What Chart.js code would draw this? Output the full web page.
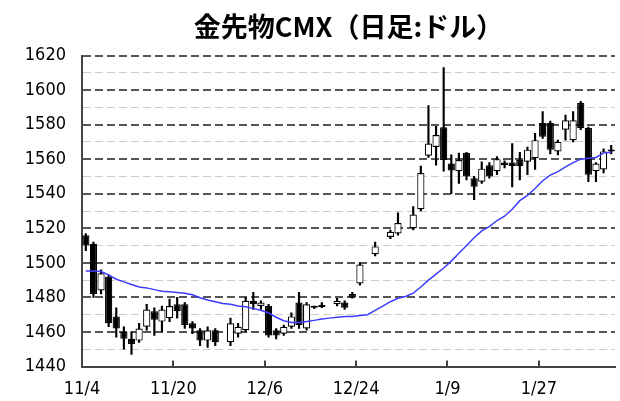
<!DOCTYPE html>
<html><head><meta charset="utf-8">
<script src="https://cdn.jsdelivr.net/npm/chart.js@4"></script>
<style>html,body{margin:0;padding:0;background:#fff}#wrap{width:620px;height:401px}</style>
</head><body><div id="wrap"><canvas id="c" width="620" height="401"></canvas></div>
<script>
const dates = ['11/4','11/5','11/6','11/7','11/8','11/11','11/12','11/13','11/14','11/15','11/18','11/19','11/20','11/21','11/22','11/25','11/26','11/27','11/28','11/29',
'12/2','12/3','12/4','12/5','12/6','12/9','12/10','12/11','12/12','12/13','12/16','12/17','12/18','12/19','12/20','12/23','12/24','12/25','12/26','12/27','12/30','12/31',
'1/1','1/2','1/3','1/6','1/7','1/8','1/9','1/10','1/13','1/14','1/15','1/16','1/17','1/20','1/21','1/22','1/23','1/24','1/27','1/28','1/29','1/30','1/31',
'2/3','2/4','2/5','2/6','2/7'];
const tickLabels = ['11/4','11/20','12/6','12/24','1/9','1/27'];
const openP = [1516,1511,1484,1492,1469,1460,1456,1455,1463,1472,1466,1468,1476,1476,1465,1461,1455,1461,null,1454,
1459,1461,1478,1475,1475,1461,1459,1463,1477,1462,1474.5,1474.5,null,1476,1477,1482,1488,null,1505,null,1515,1517,
null,1520,1531,1562,1567,1578.5,1557.5,1553,1563.5,1549,1547,1556.5,1553,1558,1558,1559.5,1558.5,1560.5,1581,1581,1564.5,1577,1571,
1592.5,1578,1553,1554,1564.5];
const highP = [1517,1512,1496,1493,1474,1463,1460,1465,1476,1474,1475,1479,1480,1477,1466,1462,1463,1462,null,1468,
1465,1480,1483,1478,1476,1462,1464,1471,1483,1477,1475,1477,null,1479.5,1478,1483,1500,null,1512,null,1519,1529,
null,1532.5,1556,1591,1579,1613,1562.5,1563.5,1564,1550,1558.5,1558,1561.5,1559,1569,1564,1567,1575,1587.5,1582,1571,1585.5,1587.5,
1593.5,1578.5,1558,1566,1568];
const lowP = [1507,1480,1482,1463,1457,1450,1447,1454,1461,1458,1460,1466,1468,1462,1459,1452,1451,1452,null,1452,
1457,1460,1473,1473,1457,1456,1458,1462,1462,1461,1473.5,1474,null,1475,1473,1479.5,1487,null,1504,null,1514,1516,
null,1519,1530,1561,1556.5,1553,1540,1546,1548,1536.5,1546,1549,1551,1555,1544,1548,1551,1554,1572,1563,1562.5,1571,1570,
1577,1547,1547,1552,1563];
const closeP = [1510,1482,1494,1465,1462,1456,1453,1462,1473,1467,1473,1475,1472,1464,1462,1455,1461,1454,null,1465,
1463,1478,1476,1477,1458,1458,1463,1469,1464,1476,1474,1474.5,null,1478,1474,1480,1499,null,1509.5,null,1518,1523,
null,1528,1552,1569,1574,1559.5,1553.5,1559.5,1550,1544,1554.5,1550,1560,1556.5,1556,1556,1565.5,1571,1573,1565.5,1570,1582.5,1582.5,
1578,1551,1557.5,1564.5,1564.5];
const movingAvg = [1495.3,1495.3,1495,1493,1490.5,1489,1487.5,1486,1485.5,1484.5,1483.5,1483.2,1482.8,1482.4,1481.5,1479.8,1478.5,1477.5,1476.5,1476,
1475,1474.6,1473.5,1472.5,1471,1468.5,1466.5,1465.5,1465.5,1466,1466.7,1467.5,1468,1468.5,1469,1469,1469.5,1470,1472.5,1475,1477.5,1479.5,
1480.5,1482.5,1486,1490,1493.5,1497,1501,1505.5,1510,1514.5,1518.5,1521,1524.5,1527,1531,1536,1539,1543,1547.5,1550.8,1552.8,1555.5,1558,
1560,1560.5,1561,1563.5,1564];

const bodies = openP.map((o, i) => o == null ? null : [o, closeP[i]]);
const wicks = lowP.map((l, i) => l == null ? null : [l, highP[i]]);
const bodyColors = openP.map((o, i) => (o != null && closeP[i] >= o) ? '#ffffff' : '#000000');

const tickFont = { family: '"Liberation Sans Narrow", "DejaVu Sans Condensed", "DejaVu Sans", sans-serif', size: 18 };

const xTickMarks = {
  id: 'xTickMarks',
  afterDatasetsDraw(chart) {
    const xs = chart.scales.x;
    const ctx = chart.ctx;
    const half = (xs.getPixelForValue(1) - xs.getPixelForValue(0)) / 2;
    ctx.save();
    ctx.strokeStyle = '#444';
    ctx.lineWidth = 2;
    dates.forEach((d, i) => {
      if (i > 0 && tickLabels.includes(d)) {
        const x = Math.round(xs.getPixelForValue(i) - half);
        ctx.beginPath();
        ctx.moveTo(x, chart.chartArea.bottom);
        ctx.lineTo(x, chart.chartArea.bottom - 6);
        ctx.stroke();
      }
    });
    ctx.restore();
  }
};

new Chart(document.getElementById('c'), {
  type: 'bar',
  data: {
    labels: dates,
    datasets: [
      { type: 'line', label: 'MA', data: movingAvg, borderColor: '#3c3cff', borderWidth: 1.5, pointRadius: 0, tension: 0, order: 0 },
      { label: 'body', data: bodies, backgroundColor: bodyColors, borderColor: '#000', borderWidth: 1.2, borderSkipped: false,
        grouped: false, barPercentage: 0.95, categoryPercentage: 1, minBarLength: 2, order: 1 },
      { label: 'wick', data: wicks, backgroundColor: '#000', borderWidth: 0, barThickness: 1.5, grouped: false, order: 2 }
    ]
  },
  options: {
    responsive: false,
    animation: false,
    devicePixelRatio: 1,
    layout: { padding: { left: 0, right: 5, top: 0, bottom: 0 } },
    plugins: {
      legend: { display: false },
      tooltip: { enabled: false },
      title: {
        display: true, text: '金先物CMX（日足:ドル）', fullSize: false, color: '#000',
        font: { family: '"Noto Sans CJK JP", sans-serif', size: 27, weight: 'bold', lineHeight: 1.2 },
        padding: { top: 10.8, bottom: 12.3 }
      }
    },
    scales: {
      x: {
        offset: true,
        grid: { display: false, offset: true },
        border: { display: true, color: '#444', width: 2 },
        ticks: {
          autoSkip: false, maxRotation: 0, minRotation: 0, padding: 4, labelOffset: -3.8,
          color: '#000', font: tickFont,
          callback: (v, i) => tickLabels.includes(dates[i]) ? dates[i] : ''
        },
        afterFit: s => { s.height = 34.5; }
      },
      y: {
        min: 1440, max: 1620,
        ticks: { stepSize: 10, maxTicksLimit: 50, autoSkip: false, padding: 16, color: '#000', font: tickFont,
          callback: v => (v % 20 === 0 ? String(v) : '') },
        grid: {
          drawTicks: false,
          color: c => (c.tick && c.tick.value % 20 === 0) ? '#555' : '#cccccc',
          lineWidth: c => (c.tick && c.tick.value % 20 === 0) ? 2 : 1
        },
        border: { display: true, color: '#444', width: 2, dash: [8, 4] },
        afterFit: s => { s.width = 82; }
      }
    }
  },
  plugins: [xTickMarks]
});
</script>
</body></html>
